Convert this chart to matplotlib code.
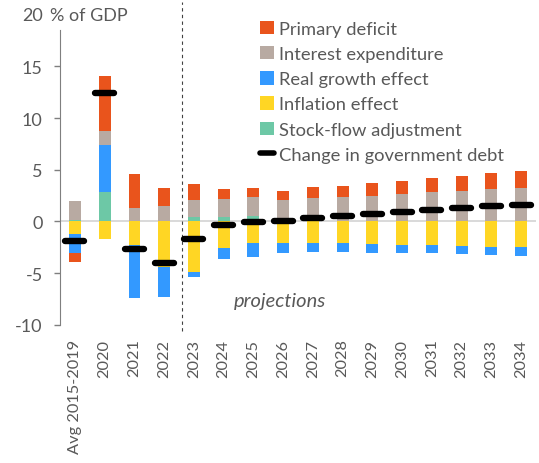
import numpy as np
import matplotlib
matplotlib.use("Agg")
import matplotlib.pyplot as plt
import matplotlib.transforms as mtransforms
from matplotlib.patches import Patch
from matplotlib.lines import Line2D

plt.rcParams['font.family'] = ['Lato', 'DejaVu Sans']
plt.rcParams['axes.unicode_minus'] = False

categories = ['Avg 2015-2019', '2020', '2021', '2022', '2023', '2024', '2025', '2026',
              '2027', '2028', '2029', '2030', '2031', '2032', '2033', '2034']

# contributions to change in debt, % of GDP
primary_deficit = [-0.83, 5.30, 3.29, 1.75, 1.50, 1.02, 0.87, 0.91,
                   1.03, 1.10, 1.24, 1.23, 1.35, 1.48, 1.58, 1.67]
interest = [1.84, 1.33, 1.29, 1.48, 1.65, 1.77, 1.91, 2.06,
            2.26, 2.35, 2.46, 2.64, 2.81, 2.94, 3.10, 3.23]
real_growth = [-1.84, 4.55, -5.07, -2.84, -0.45, -0.99, -1.36, -1.00,
               -0.93, -0.87, -0.83, -0.81, -0.77, -0.77, -0.78, -0.87]
inflation = [-1.23, -1.72, -2.30, -4.46, -4.94, -2.60, -2.07, -2.07,
             -2.07, -2.13, -2.20, -2.26, -2.33, -2.40, -2.46, -2.46]
stock_flow = [0.10, 2.87, 0.0, 0.0, 0.47, 0.39, 0.50, 0.0,
              0.0, 0.0, 0.0, 0.0, 0.0, 0.0, 0.0, 0.0]
debt_change = [-1.94, 12.40, -2.68, -4.04, -1.72, -0.39, -0.10, 0.0,
               0.29, 0.51, 0.71, 0.90, 1.10, 1.32, 1.51, 1.61]

names = ['Primary deficit', 'Interest expenditure', 'Real growth effect',
         'Inflation effect', 'Stock-flow adjustment']
colors = ['#E9541C', '#B8AAA2', '#3399FF', '#FFD624', '#6DC8A6']
grey_txt = '#595959'

fig = plt.figure(figsize=(5.39, 4.64), dpi=100)
ax = fig.add_axes([0.1115, 0.298, 0.883, 0.668])

x = np.arange(len(categories))
width = 0.4

# stacking order from zero outward: SFA, inflation, growth, interest, primary
stack = [(stock_flow, colors[4]), (inflation, colors[3]), (real_growth, colors[2]),
         (interest, colors[1]), (primary_deficit, colors[0])]
pos_base = np.zeros(len(x))
neg_base = np.zeros(len(x))
for vals, col in stack:
    v = np.array(vals)
    p = np.where(v > 0, v, 0)
    n = np.where(v < 0, v, 0)
    ax.bar(x, p, width, bottom=pos_base, color=col, zorder=2)
    ax.bar(x, n, width, bottom=neg_base, color=col, zorder=2)
    pos_base += p
    neg_base += n

lc = ax.hlines(debt_change, x - 0.32, x + 0.32, color='black', linewidth=4.6, zorder=4)
lc.set_capstyle('round')

ax.axhline(0, color='#D9D9D9', linewidth=1.4, zorder=1)
ax.axvline(3.61, ymin=-0.02, ymax=1.042, color='#404040', linewidth=0.8,
           linestyle=(0, (3, 3)), clip_on=False, zorder=1)

ax.set_xlim(-0.5, len(x) - 0.5)
ax.set_ylim(-10, 20)
ax.set_yticks([-10, -5, 0, 5, 10, 15])
ax.set_xticks(x)
ax.set_xticklabels(categories, rotation=90, fontsize=11.8, color=grey_txt)
ax.tick_params(axis='x', length=0, pad=10)
ax.tick_params(axis='y', labelsize=13, colors='#7F7F7F', labelcolor=grey_txt,
               length=4.5, width=1, pad=8)

for s in ['top', 'right', 'bottom']:
    ax.spines[s].set_visible(False)
ax.spines['left'].set_color('#7F7F7F')
ax.spines['left'].set_bounds(-10, 18.5)

# "20" sits where the tick label would be, unit label next to it
base = mtransforms.blended_transform_factory(ax.transAxes, ax.transData)
t20 = base + mtransforms.ScaledTranslation(-17 / 100, 0, fig.dpi_scale_trans)
tunit = base + mtransforms.ScaledTranslation(-10 / 100, 0, fig.dpi_scale_trans)
ax.text(0, 20, '20', transform=t20, ha='right', va='center',
        fontsize=13, color=grey_txt, clip_on=False)
ax.text(0, 20, '% of GDP', transform=tunit, ha='left', va='center',
        fontsize=13, color=grey_txt, clip_on=False)

ax.text(6.9, -7.7, 'projections', ha='center', va='center', style='italic',
        fontsize=14.5, color=grey_txt)

handles = [Patch(facecolor=c, edgecolor='none') for c in colors]
handles.append(Line2D([0], [0], color='black', linewidth=4, solid_capstyle='round'))
labels = names + ['Change in government debt']
ax.legend(handles, labels, loc='upper left', bbox_to_anchor=(0.405, 1.005),
          frameon=False, fontsize=13.2, labelcolor=grey_txt,
          handlelength=0.75, handleheight=0.75, handletextpad=0.28,
          labelspacing=0.5, borderaxespad=0)

fig.savefig('out.png', dpi=100)
